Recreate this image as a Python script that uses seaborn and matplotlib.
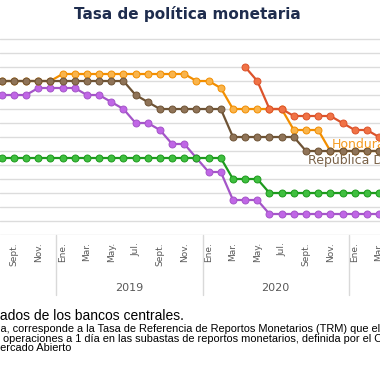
import matplotlib
matplotlib.use("Agg")
import matplotlib.pyplot as plt
import matplotlib.transforms as mtransforms
import seaborn as sns
import numpy as np

# months shown: Aug 2018 .. Mar 2021 (index 0..31)
months = list(range(32))
tick_pos = [1, 3, 5, 7, 9, 11, 13, 15, 17, 19, 21, 23, 25, 27, 29, 31]
tick_labels = ["Sept.", "Nov.", "Ene.", "Mar.", "May.", "Jul.", "Sept.", "Nov.",
               "Ene.", "Mar.", "May.", "Jul.", "Sept.", "Nov.", "Ene.", "Mar."]
years = ["2019", "2020"]
year_centers = [10.5, 22.5]
year_breaks = [4.5, 16.5, 28.5]

guatemala = [2.75, 2.75, 2.75, 2.75, 2.75, 2.75, 2.75, 2.75, 2.75, 2.75, 2.75,
             2.75, 2.75, 2.75, 2.75, 2.75, 2.75, 2.75, 2.75, 2.0, 2.0, 2.0,
             1.5, 1.5, 1.5, 1.5, 1.5, 1.5, 1.5, 1.5, 1.5, 1.5]
costa_rica = [5.0, 5.0, 5.0, 5.25, 5.25, 5.25, 5.25, 5.0, 5.0, 4.75, 4.5,
              4.0, 4.0, 3.75, 3.25, 3.25, 2.75, 2.25, 2.25, 1.25, 1.25, 1.25,
              0.75, 0.75, 0.75, 0.75, 0.75, 0.75, 0.75, 0.75, 0.75, 0.75]
honduras = [5.5, 5.5, 5.5, 5.5, 5.5, 5.75, 5.75, 5.75, 5.75, 5.75, 5.75,
            5.75, 5.75, 5.75, 5.75, 5.75, 5.5, 5.5, 5.25, 4.5, 4.5, 4.5,
            4.5, 4.5, 3.75, 3.75, 3.75, 3.0, 3.0, 3.0, 3.0, 3.0]
rep_dominicana = [5.5, 5.5, 5.5, 5.5, 5.5, 5.5, 5.5, 5.5, 5.5, 5.5, 5.5,
                  5.0, 4.75, 4.5, 4.5, 4.5, 4.5, 4.5, 4.5, 3.5, 3.5, 3.5,
                  3.5, 3.5, 3.5, 3.0, 3.0, 3.0, 3.0, 3.0, 3.0, 3.0]
nicaragua_months = list(range(20, 32))
nicaragua = [6.0, 5.5, 4.5, 4.5, 4.25, 4.25, 4.25, 4.25, 4.0, 3.75, 3.75, 3.5]

sns.set_theme(style="white")
plt.rcParams["font.family"] = ["DejaVu Sans"]

fig = plt.figure(figsize=(3.8, 3.8), dpi=100)
ax = fig.add_axes([0, 145 / 380, 1, 7.2 * 28 / 380])

series = [
    (months, costa_rica, "#a455c8", "#c066e6"),
    (months, guatemala, "#1d9a1d", "#3fbf3f"),
    (months, honduras, "#f28e00", "#f9b44c"),
    (months, rep_dominicana, "#6e5335", "#8f7357"),
    (nicaragua_months, nicaragua, "#dc532b", "#f07245"),
]
for xs, ys, line_c, face_c in series:
    sns.lineplot(x=xs, y=ys, ax=ax, color=line_c, linewidth=1.6, marker="o",
                 markersize=5, markerfacecolor=face_c, markeredgecolor=line_c,
                 markeredgewidth=0.7)

ax.set_xlim(-0.14, 31.08)
ax.set_ylim(0, 7.2)
ax.set_yticks(np.arange(0, 7.01, 0.5))
ax.set_yticklabels([])
ax.grid(axis="y", color="#dcdcdc", linewidth=1)
ax.set_axisbelow(True)
for s in ax.spines.values():
    s.set_visible(False)

ax.set_xticks(tick_pos)
ax.set_xticklabels(tick_labels, rotation=90, fontsize=6.5, color="#595959")
ax.tick_params(axis="x", length=0, pad=5)
ax.tick_params(axis="y", length=0)

# year level of the category axis
trans = mtransforms.blended_transform_factory(ax.transData, ax.transAxes)
for xb in year_breaks:
    ax.plot([xb, xb], [0, -0.30], transform=trans, color="#d9d9d9",
            linewidth=1, clip_on=False)
for yr, xc in zip(years, year_centers):
    ax.text(xc, -0.263, yr, transform=trans, ha="center", va="center",
            fontsize=8, color="#595959")

# series labels at the right
ax.text(27.1, 3.11, "Honduras", color="#f59c22", fontsize=9, va="baseline",
        clip_on=False)
ax.text(25.17, 2.54, "República Dominicana", color="#7a6248", fontsize=9,
        va="baseline", clip_on=False)

fig.text(0.492, 1 - 19 / 380, "Tasa de política monetaria", ha="center",
         va="baseline", fontsize=11, fontweight="bold", color="#1f2d4e")

# footnotes, cut at the figure edges like the source
renderer = fig.canvas.get_renderer()


def cut_text(y_px, hidden, shown, x_px=0, **kw):
    t = fig.text(0, 1 - y_px / 380, hidden, va="center", **kw)
    w = t.get_window_extent(renderer).width if hidden else 0
    t.set_text(hidden + shown)
    t.set_x((x_px - w) / 380)


cut_text(316, "Fuente: SECMCA con datos public",
         "ados de los bancos centrales.",
         family="Liberation Sans", fontsize=10, color="#000000")
cut_text(329, "2/ Para Nicaragu",
         "a, corresponde a la Tasa de Referencia de Reportos Monetarios (TRM) "
         "que el Banco Central de Nicaragua",
         family="Liberation Sans", fontsize=7.9, color="#000000")
cut_text(339, "", "operaciones a 1 día en las subastas de reportos monetarios, "
         "definida por el Comité de Operaciones de", x_px=2.7,
         family="Liberation Sans", fontsize=7.9, color="#000000")
cut_text(348, "M", "ercado Abierto",
         family="Liberation Sans", fontsize=7.9, color="#000000")

fig.savefig("out.png", dpi=100)
